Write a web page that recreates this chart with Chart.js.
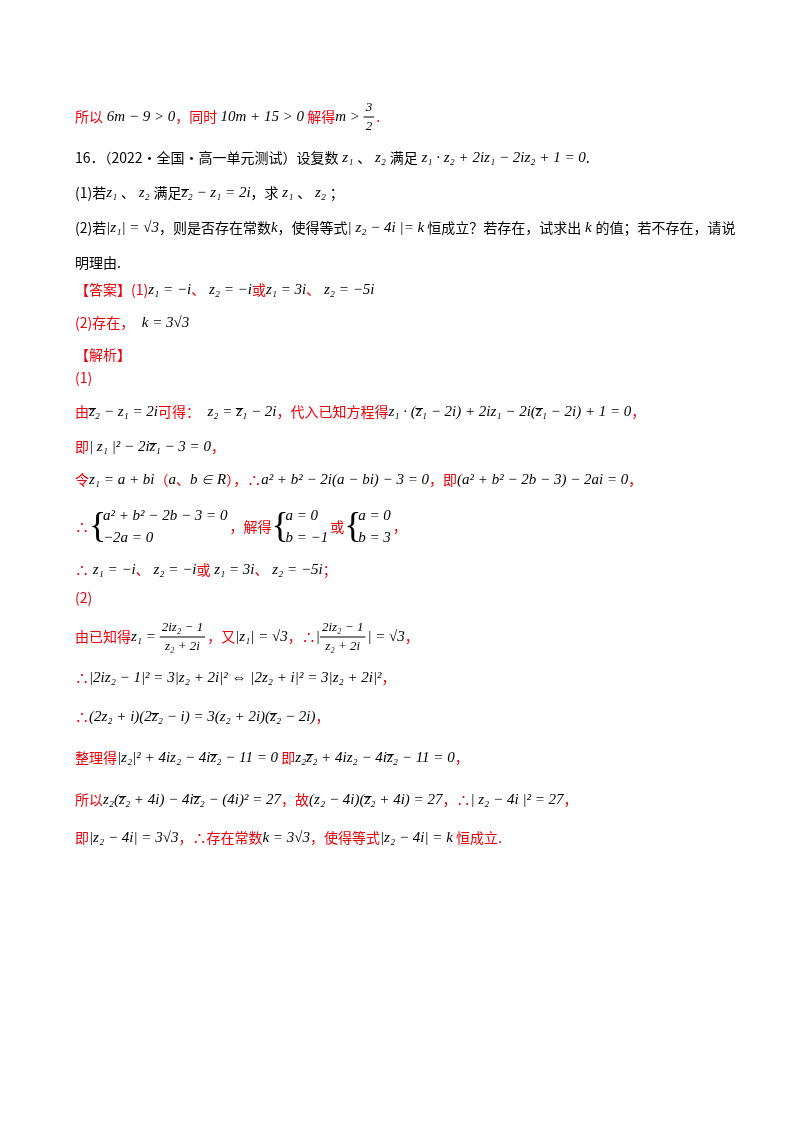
<!DOCTYPE html>
<html lang="zh">
<head>
<meta charset="UTF-8">
<title>复数 16</title>
<script src="https://cdn.jsdelivr.net/npm/chart.js"></script>
<style>
  body { margin: 0; background: #fff; }
  canvas { display: block; }
</style>
</head>
<body>
<canvas id="page" width="800" height="1132"></canvas>
<script>
// each line: segments [kind, content, colour]
// kinds: c = chinese text, m = math text, f = fraction "num|den", s = system "l1|l2"
const R = '#e8000b', K = '#000';
const lineY = [117, 158, 193, 228, 263, 290, 323, 355, 378, 412, 447, 480, 527, 570, 598, 637, 678, 717, 758, 800, 838];
const lineSegs = [
  [['c','所以',R],['m',' 6m − 9 > 0',K],['c','，同时 ',R],['m','10m + 15 > 0',K],['c',' 解得',R],['m','m > ',K],['f','3|2',K],['c','.',R]],
  [['c','16．（2022·全国·高一单元测试）设复数',K],['m',' z₁ ',K],['c','、',K],['m',' z₂ ',K],['c','满足',K],['m',' z₁ · z₂ + 2iz₁ − 2iz₂ + 1 = 0',K],['c','.',K]],
  [['c','(1)若',K],['m','z₁ ',K],['c','、',K],['m',' z₂ ',K],['c','满足',K],['m','z̅₂ − z₁ = 2i',K],['c','，求',K],['m',' z₁ ',K],['c','、',K],['m',' z₂ ',K],['c','；',K]],
  [['c','(2)若',K],['m','|z₁| = √3',K],['c','，则是否存在常数',K],['m','k',K],['c','，使得等式',K],['m','| z₂ − 4i |= k',K],['c',' 恒成立？若存在，试求出',K],['m',' k ',K],['c','的值；若不存在，请说',K]],
  [['c','明理由.',K]],
  [['c','【答案】(1)',R],['m','z₁ = −i',K],['c','、',R],['m',' z₂ = −i',K],['c','或',R],['m','z₁ = 3i',K],['c','、',R],['m',' z₂ = −5i',K]],
  [['c','(2)存在，',R],['m','  k = 3√3',K]],
  [['c','【解析】',R]],
  [['c','(1)',R]],
  [['c','由',R],['m','z̅₂ − z₁ = 2i',K],['c','可得：',R],['m','  z₂ = z̅₁ − 2i',K],['c','，代入已知方程得',R],['m','z₁ · (z̅₁ − 2i) + 2iz₁ − 2i(z̅₁ − 2i) + 1 = 0',K],['c','，',R]],
  [['c','即',R],['m','| z₁ |² − 2iz̅₁ − 3 = 0',K],['c','，',R]],
  [['c','令',R],['m','z₁ = a + bi',K],['c','（',R],['m','a',K],['c','、',R],['m','b ∈ R',K],['c','），∴',R],['m','a² + b² − 2i(a − bi) − 3 = 0',K],['c','，即',R],['m','(a² + b² − 2b − 3) − 2ai = 0',K],['c','，',R]],
  [['c','∴',R],['s','a² + b² − 2b − 3 = 0|−2a = 0',K],['c','，解得',R],['s','a = 0|b = −1',K],['c','或',R],['s','a = 0|b = 3',K],['c','，',R]],
  [['c','∴',R],['m',' z₁ = −i',K],['c','、',R],['m',' z₂ = −i',K],['c','或',R],['m',' z₁ = 3i',K],['c','、',R],['m',' z₂ = −5i',K],['c','；',R]],
  [['c','(2)',R]],
  [['c','由已知得',R],['m','z₁ = ',K],['f','2iz₂ − 1|z₂ + 2i',K],['c','，又',R],['m','|z₁| = √3',K],['c','，∴',R],['m','|',K],['f','2iz₂ − 1|z₂ + 2i',K],['m','| = √3',K],['c','，',R]],
  [['c','∴',R],['m','|2iz₂ − 1|² = 3|z₂ + 2i|² ⇔ |2z₂ + i|² = 3|z₂ + 2i|²',K],['c','，',R]],
  [['c','∴',R],['m','(2z₂ + i)(2z̅₂ − i) = 3(z₂ + 2i)(z̅₂ − 2i)',K],['c','，',R]],
  [['c','整理得',R],['m','|z₂|² + 4iz₂ − 4iz̅₂ − 11 = 0',K],['c',' 即',R],['m','z₂z̅₂ + 4iz₂ − 4iz̅₂ − 11 = 0',K],['c','，',R]],
  [['c','所以',R],['m','z₂(z̅₂ + 4i) − 4iz̅₂ − (4i)² = 27',K],['c','，故',R],['m','(z₂ − 4i)(z̅₂ + 4i) = 27',K],['c','，∴',R],['m','| z₂ − 4i |² = 27',K],['c','，',R]],
  [['c','即',R],['m','|z₂ − 4i| = 3√3',K],['c','，∴存在常数',R],['m','k = 3√3',K],['c','，使得等式',R],['m','|z₂ − 4i| = k',K],['c',' 恒成立.',R]]
];

const CJK = '14px "Noto Sans CJK SC"';
const MATH = 'italic 15px "Liberation Serif"';
const SMALL = 'italic 13px "Liberation Serif"';

const textPage = {
  id: 'textPage',
  afterDraw(chart) {
    const ctx = chart.ctx;
    ctx.save();
    ctx.textBaseline = 'middle';
    lineSegs.forEach((segs, i) => {
      let x = 75;
      const y = lineY[i];
      segs.forEach(([kind, s, col]) => {
        ctx.fillStyle = col;
        ctx.strokeStyle = col;
        if (kind === 'c' || kind === 'm') {
          ctx.font = kind === 'c' ? CJK : MATH;
          ctx.fillText(s, x, y);
          x += ctx.measureText(s).width;
        } else if (kind === 'f') {
          const [n, d] = s.split('|');
          ctx.font = SMALL;
          const w = Math.max(ctx.measureText(n).width, ctx.measureText(d).width) + 4;
          ctx.textAlign = 'center';
          ctx.fillText(n, x + w / 2, y - 9);
          ctx.fillText(d, x + w / 2, y + 10);
          ctx.textAlign = 'left';
          ctx.lineWidth = 1;
          ctx.beginPath(); ctx.moveTo(x, y); ctx.lineTo(x + w, y); ctx.stroke();
          x += w + 2;
        } else if (kind === 's') {
          const [a, b] = s.split('|');
          ctx.font = '36px "Liberation Serif"';
          ctx.fillText('{', x, y + 1);
          ctx.font = MATH;
          ctx.fillText(a, x + 14, y - 11);
          ctx.fillText(b, x + 14, y + 11);
          x += 14 + Math.max(ctx.measureText(a).width, ctx.measureText(b).width) + 2;
        }
      });
    });
    ctx.restore();
  }
};

new Chart(document.getElementById('page').getContext('2d'), {
  type: 'scatter',
  data: { datasets: [{ data: [] }] },
  options: {
    responsive: false,
    animation: false,
    plugins: { legend: { display: false }, tooltip: { enabled: false } },
    scales: { x: { display: false }, y: { display: false } }
  },
  plugins: [textPage]
});
</script>
</body>
</html>
